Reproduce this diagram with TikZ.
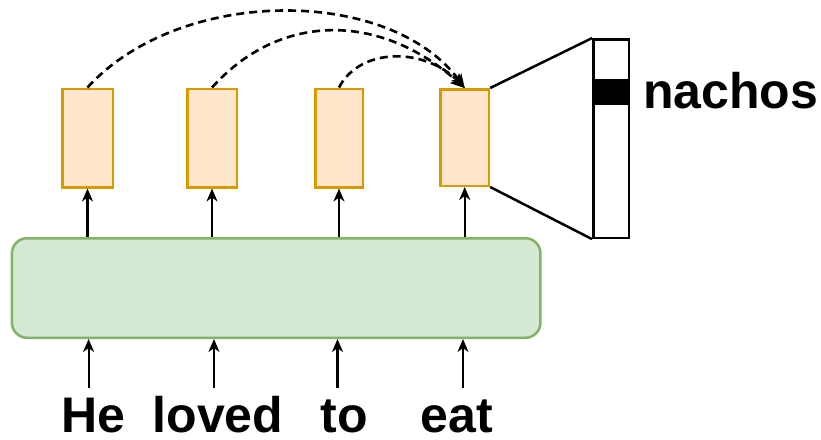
\documentclass[tikz,border=0pt]{standalone}
\usepackage{fontspec}
\setmainfont{Liberation Sans}
\usetikzlibrary{arrows.meta}
\definecolor{ofill}{HTML}{FFE6CC}
\definecolor{oline}{HTML}{D79B00}
\definecolor{gfill}{HTML}{D5E8D4}
\definecolor{gline}{HTML}{82B366}
\begin{document}
\begin{tikzpicture}[x=1pt,y=-1pt,
  hbox/.style={draw=oline,fill=ofill,line width=2.5pt,minimum height=98.5pt,inner sep=0pt},
  encbox/.style={draw=gline,fill=gfill,line width=2.5pt,rounded corners=15pt,minimum width=528.5pt,minimum height=99.5pt,inner sep=0pt},
  outbox/.style={draw=black,fill=white,line width=2.5pt,minimum width=35.5pt,minimum height=198.5pt,inner sep=0pt},
  barbox/.style={draw=black,fill=black,line width=1pt,minimum width=36pt,minimum height=25pt,inner sep=0pt},
  arr/.style={line width=2.2pt,-{Stealth[length=13pt,width=11pt,inset=4pt]}},
  dsh/.style={line width=2.6pt,dash pattern=on 8pt off 5pt,-{Stealth[length=14pt,width=12pt,inset=4pt]}},
  link/.style={line width=2.5pt},
  word/.style={font=\fontsize{50}{60}\selectfont\bfseries,inner sep=0pt,text depth=0pt}
]
\useasboundingbox (0,0) rectangle (821,439);
\fill[white] (0,0) rectangle (821,439);

% hidden-state boxes
\node[hbox,minimum width=50.5pt] (b1) at (87.5,138) {};
\node[hbox,minimum width=49.5pt] (b2) at (212,138) {};
\node[hbox,minimum width=47.5pt] (b3) at (339,138) {};
\node[hbox,minimum width=48.5pt,minimum height=96.5pt] (b4) at (464.7,137.5) {};

% encoder
\node[encbox] (enc) at (276.2,288) {};

% output vector
\node[outbox] (out) at (611,138.6) {};
\node[barbox] (bar) at (611,91.7) {};

% trapezoid
\draw[link] (b4.north east) -- (out.north west);
\draw[link] (b4.south east) -- (out.south west);

% encoder -> boxes
\foreach \b in {b1,b2,b3,b4}
  \draw[arr] (\b.south |- enc.north) -- (\b.south);

% words
\node[word,anchor=base] (t1) at (93.5,432) {He};
\node[word,anchor=base] (t2) at (218,432) {loved};
\node[word,anchor=base] (t3) at (344.5,432) {to};
\node[word,anchor=base] (t4) at (457,432) {eat};

\coordinate (w1) at (88.6,388);
\coordinate (w2) at (214,388);
\coordinate (w3) at (337.5,388);
\coordinate (w4) at (463,388);
\foreach \w in {w1,w2,w3,w4}
  \draw[arr] (\w) -- (\w |- enc.south);

% attention curves
\draw[dsh] (b1.north) .. controls (180,-14) and (390,-14) .. (b4.north);
\draw[dsh] (b2.north) .. controls (280,12) and (380,12) .. (b4.north);
\draw[dsh] (b3.north) .. controls (360,47) and (425,47) .. (b4.north);

% output word
\node[word,anchor=base west] (nachos) at (643,108) {nachos};
\end{tikzpicture}
\end{document}
